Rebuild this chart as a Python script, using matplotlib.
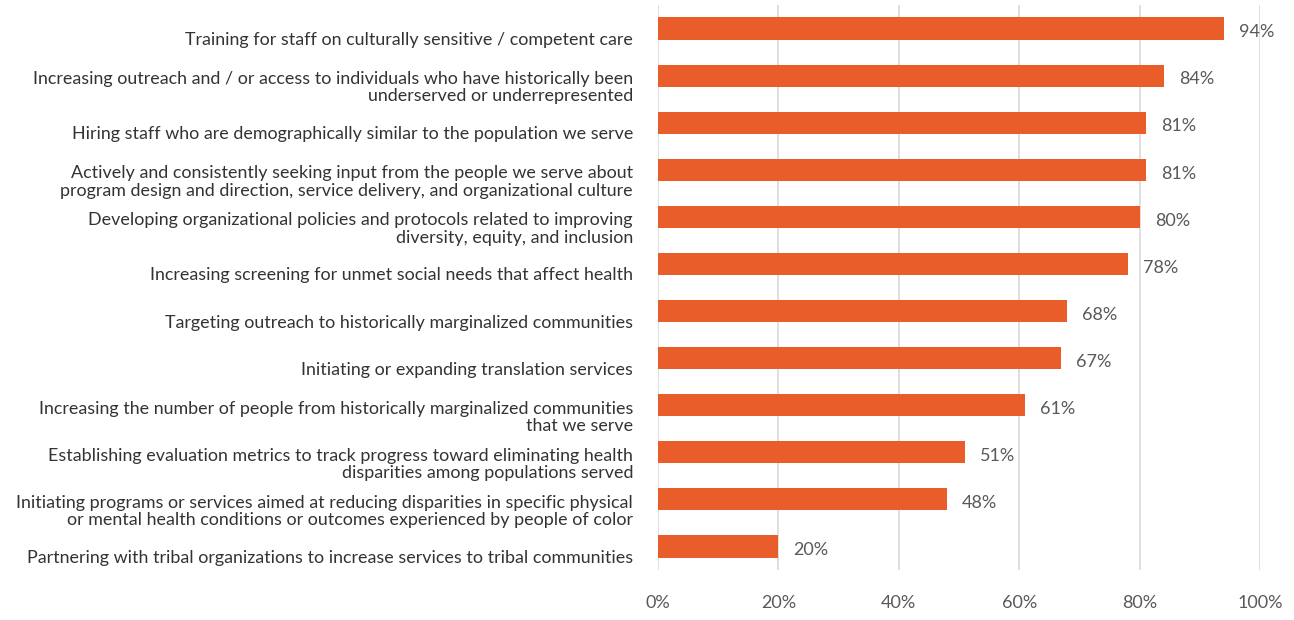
import numpy as np
import matplotlib
matplotlib.use("Agg")
import matplotlib.pyplot as plt
import matplotlib.transforms as mtransforms

# данные
labels = [
    "Training for staff on culturally sensitive / competent care",
    "Increasing outreach and / or access to individuals who have historically been\nunderserved or underrepresented",
    "Hiring staff who are demographically similar to the population we serve",
    "Actively and consistently seeking input from the people we serve about\nprogram design and direction, service delivery, and organizational culture",
    "Developing organizational policies and protocols related to improving\ndiversity, equity, and inclusion",
    "Increasing screening for unmet social needs that affect health",
    "Targeting outreach to historically marginalized communities",
    "Initiating or expanding translation services",
    "Increasing the number of people from historically marginalized communities\nthat we serve",
    "Establishing evaluation metrics to track progress toward eliminating health\ndisparities among populations served",
    "Initiating programs or services aimed at reducing disparities in specific physical\nor mental health conditions or outcomes experienced by people of color",
    "Partnering with tribal organizations to increase services to tribal communities",
]
values = [94, 84, 81, 81, 80, 78, 68, 67, 61, 51, 48, 20]
ticks = [0, 20, 40, 60, 80, 100]

plt.rcParams['font.family'] = ['Lato', 'DejaVu Sans']

fig = plt.figure(figsize=(12.94, 6.2), dpi=100)
ax = fig.add_axes([658/1294, 1-570/620, (1260-658)/1294, (570-5)/620])

y = np.arange(len(values))
ax.barh(y, values, height=0.47, color='#E85D2A', zorder=3)

for yi, v in zip(y, values):
    ax.text(v + 2.5, yi + 0.08, f"{v}%", va='center', ha='left', fontsize=13, color='#595959')

ax.set_xlim(0, 100)
ax.set_ylim(len(values) - 0.5, -0.5)
ax.set_xticks(ticks)
ax.set_xticklabels([f"{t}%" for t in ticks], fontsize=13, color='#595959')
ax.set_yticks(y)
ax.set_yticklabels(labels, fontsize=12.9, color='#333333', linespacing=1.1)
ax.tick_params(axis='both', length=0)
ax.tick_params(axis='y', pad=18)
ax.tick_params(axis='x', pad=18)
# подписи слева чуть ниже центра столбца
shift = mtransforms.ScaledTranslation(0, -0.1, fig.dpi_scale_trans)
for lab in ax.get_yticklabels():
    lab.set_transform(lab.get_transform() + shift)
for s in ax.spines.values():
    s.set_visible(False)
ax.grid(axis='x', color='#D9D9D9', linewidth=1.2, zorder=0)

fig.savefig("out.png", dpi=100)
